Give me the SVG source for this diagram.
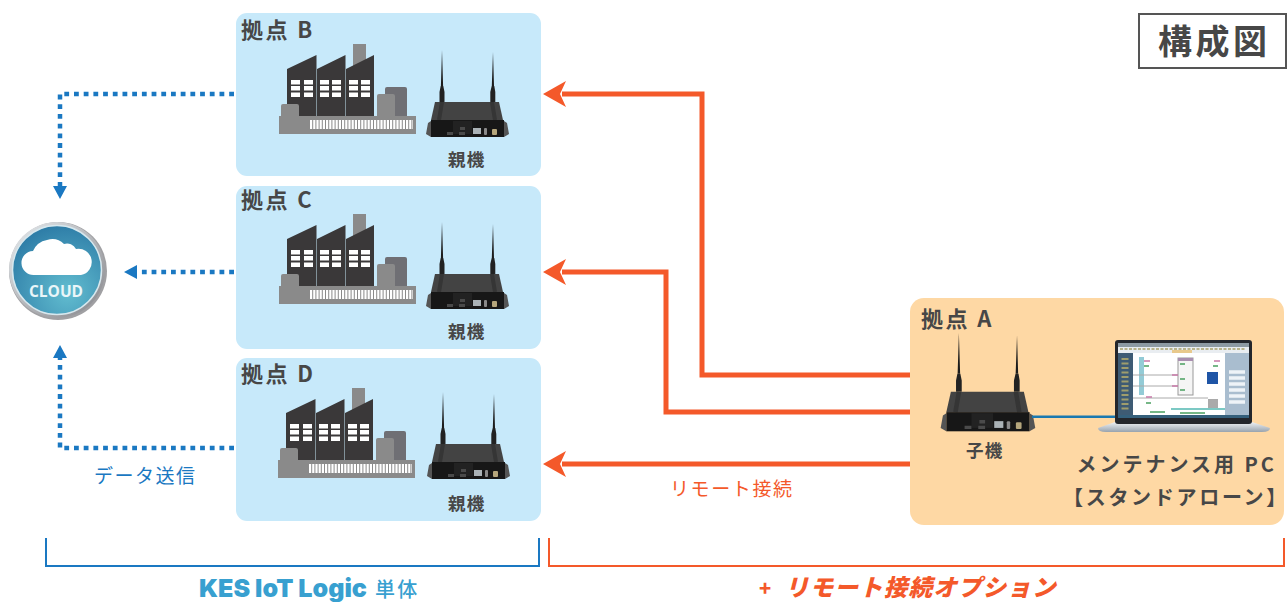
<svg xmlns="http://www.w3.org/2000/svg" width="1287" height="602" viewBox="0 0 1287 602">
<style>
text{font-family:"Noto Sans CJK JP","Noto Sans",sans-serif}
.site{fill:#c7e9fa}
.lbl{font-size:22px;font-weight:700;fill:#474747;letter-spacing:2.400px}
.sub{font-size:17.500px;font-weight:700;fill:#474747;letter-spacing:1.200px}
.or{fill:none;stroke:#f4592a;stroke-width:5}
.dot{fill:none;stroke:#1a78c2;stroke-width:4.500;stroke-dasharray:4.800 4.900}
</style>
<defs>
<radialGradient id="cg" cx="0.62" cy="0.75" r="0.75"><stop offset="0" stop-color="#62bdd0"/><stop offset="1" stop-color="#2f7ea8"/></radialGradient>
<linearGradient id="ring" x1="0" y1="0" x2="1" y2="1"><stop offset="0" stop-color="#e8ecef"/><stop offset="1" stop-color="#85858a"/></linearGradient>
<linearGradient id="lap" x1="0" y1="0" x2="0" y2="1"><stop offset="0" stop-color="#eef1f4"/><stop offset="1" stop-color="#98a3ae"/></linearGradient>
<g id="factory">
<rect x="385" y="87" width="22" height="32" rx="2" fill="#6f6f74"/>
<rect x="353" y="44" width="13" height="25" fill="#8a8a8a"/>
<path d="M287 69L316.500 55V116H287ZM317 69L345.500 55V116H317ZM346 69L374 55V116H346Z" fill="#3a3839"/>
<rect x="377" y="94" width="18" height="24" rx="2" fill="#8a8a8a"/>
<rect x="281" y="104" width="18" height="14" rx="2" fill="#8a8a8a"/>
<rect x="279" y="116" width="137" height="18" fill="#8a8a8a"/>
<path d="M310 124.500H413" fill="none" stroke="#fff" stroke-width="9" stroke-dasharray="2.200 1"/>
<path d="M291 80h9v4.500h-9zM304 80h9v4.500h-9zM320 80h9v4.500h-9zM332 80h9v4.500h-9zM349 80h9v4.500h-9zM361 80h9v4.500h-9zM291 86h9v4.500h-9zM304 86h9v4.500h-9zM320 86h9v4.500h-9zM332 86h9v4.500h-9zM349 86h9v4.500h-9zM361 86h9v4.500h-9zM291 92.500h9v4.500h-9zM304 92.500h9v4.500h-9zM320 92.500h9v4.500h-9zM332 92.500h9v4.500h-9zM349 92.500h9v4.500h-9zM361 92.500h9v4.500h-9z" fill="#fff"/>
</g>
<g id="router">
<path d="M442 50L443.100 86H440.900ZM493 52L494 86H491.800Z" fill="#1c1c1c"/>
<path d="M440.700 86h2.600l1.200 6v10h-5v-10zM491.700 86h2.600l1 6v10h-5v-10z" fill="#222"/>
<path d="M426 134L428 123L431 121V137ZM509 134L507 123L504 121V137Z" fill="#555"/>
<path d="M435 102H499L503 120H431Z" fill="#434343"/>
<path d="M442 102L439 120M492 102L495 120" stroke="#2c2c2c" stroke-width="4" opacity=".6"/>
<rect x="431" y="120" width="73" height="17" fill="#171717"/>
<rect x="453" y="121" width="19" height="13" fill="#222"/>
<rect x="473" y="128" width="8" height="6" fill="#aab2b6"/>
<rect x="484" y="128" width="3" height="7" rx="1" fill="#8a8a8a"/>
<rect x="492" y="129" width="5" height="6" rx="1" fill="#b5a67c"/>
<path d="M460 127h5v3h-5zM447 132h6v3h-6zM459 132h6v3h-6z" fill="#4a4a4a"/>
</g>
</defs>

<g id="site-b"><rect class="site" x="236" y="13" width="305" height="163" rx="11"/><text class="lbl" x="241" y="38">拠点 B</text><use href="#factory"/><use href="#router"/><text class="sub" x="448" y="166">親機</text></g>
<g id="site-c"><rect class="site" x="236" y="186" width="305" height="163" rx="11"/><text class="lbl" x="241" y="208">拠点 C</text><use href="#factory" transform="translate(0 170)"/><use href="#router" transform="translate(0 172)"/><text class="sub" x="448" y="338">親機</text></g>
<g id="site-d"><rect class="site" x="236" y="358" width="305" height="163" rx="11"/><text class="lbl" x="241" y="382">拠点 D</text><use href="#factory" transform="translate(-1 344)"/><use href="#router" transform="translate(1 342)"/><text class="sub" x="448" y="510">親機</text></g>

<g id="site-a">
<rect x="910" y="298" width="374" height="227" rx="14" fill="#fed8a4"/>
<text class="lbl" x="921" y="327">拠点 A</text>
<use href="#router" transform="translate(455 276.500) scale(1.140 1.130)"/>
<text class="sub" x="966" y="457">子機</text>
<rect x="1032" y="415.500" width="84" height="2.500" fill="#1a78b0"/>
<path d="M1115 422L1252 422L1270 428Q1270 432 1262 432H1106Q1098 432 1098 428Z" fill="url(#lap)"/>
<rect x="1115" y="340" width="137" height="84" rx="3" fill="#23262c"/>
<rect x="1118" y="343" width="131" height="75" fill="#e9edf1"/>
<rect x="1118" y="343" width="131" height="4" fill="#8d9aa3"/>
<path d="M1120 349H1246" stroke="#b9b48c" stroke-width="2" stroke-dasharray="3 1.500"/>
<rect x="1172" y="350" width="20" height="3" fill="#e8c98c"/>
<rect x="1118" y="353" width="15" height="65" fill="#3e5b74"/>
<path d="M1125 358V412" stroke="#c8b96a" stroke-width="7" stroke-dasharray="2 2.500" opacity=".7"/>
<rect x="1133" y="353" width="92" height="63" fill="#fff"/>
<rect x="1225" y="353" width="24" height="65" fill="#a9bdcf"/>
<path d="M1229 372H1245M1229 378H1245M1229 384H1245M1229 390H1245M1229 396H1245M1229 402H1245" stroke="#eef3f8" stroke-width="3.500"/>
<rect x="1139" y="357" width="5" height="38" fill="#93cbd6"/>
<rect x="1178" y="358" width="15" height="37" fill="#f5f5f5" stroke="#999"/>
<rect x="1178" y="358" width="15" height="3" fill="#a98fb0"/>
<rect x="1207" y="372" width="11" height="12" fill="#1f55a6"/>
<rect x="1171" y="408" width="54" height="2" fill="#7cc9c4"/>
<rect x="1208" y="399" width="10" height="9" fill="#aaa"/>
<path d="M1133 375H1178M1133 386H1178M1133 398H1208" stroke="#aaa" stroke-width="1"/>
<path d="M1144 361h6M1214 361h6M1146 397h6M1172 375h6M1172 386h6" stroke="#c878a8" stroke-width="1.500"/>
<path d="M1144 366h5M1213 366h5M1146 403h5M1180 379h5M1180 390h5M1180 364h5M1150 412h15M1180 413h25" stroke="#4aa060" stroke-width="1.500"/>
<rect x="1118" y="415" width="131" height="3" fill="#35607c"/>
<text x="1277" y="472" text-anchor="end" font-size="20" font-weight="700" fill="#474747" letter-spacing="3">メンテナンス用 PC</text>
<text x="1063" y="505" font-size="20" font-weight="700" fill="#474747" letter-spacing="2.700">【スタンドアローン】</text>
</g>

<g id="cloud">
<circle cx="58" cy="271" r="49" fill="#77777c" opacity="0.7"/>
<circle cx="57" cy="270" r="48" fill="url(#ring)"/>
<circle cx="57" cy="270" r="44.500" fill="url(#cg)" stroke="#d7e8ee" stroke-width="1.500"/>
<path d="M33 275a12 12 0 0 1-1-24a19 19 0 0 1 14-11a17 17 0 0 1 17 4a10 10 0 0 1 12 5a13 13 0 0 1 5 26Z" fill="#fff" transform="translate(1 0)"/>
<text x="56" y="297" text-anchor="middle" font-size="15.500" font-weight="700" fill="#eaf6f9" style="font-family:'Open Sans','Liberation Sans',sans-serif">CLOUD</text>
</g>

<g id="connectors">
<path class="or" d="M910 375H702V94H562"/>
<path class="or" d="M910 412H666V272H562"/>
<path class="or" d="M910 464H562"/>
<path d="M543 94L566 81L560 94L566 107ZM543 272L566 259L560 272L566 285ZM543 464L566 451L560 464L566 477Z" fill="#f4592a"/>
<path class="dot" d="M234 94H60V186"/>
<path class="dot" d="M234 272H137"/>
<path class="dot" d="M234 448H60V358"/>
<path d="M60 199L53 186H67ZM124 272L137 265V279ZM60 345L53 358H67Z" fill="#1a78c2"/>
<path d="M46 538V566H539V538" fill="none" stroke="#1a78c2" stroke-width="2"/>
<path d="M549 538V566H1284V538" fill="none" stroke="#f4592a" stroke-width="2"/>
</g>

<g id="labels">
<text x="94" y="483" font-size="19" fill="#1a78c2" letter-spacing="1.500">データ送信</text>
<text x="670" y="496" font-size="19" fill="#f4592a" letter-spacing="1.600">リモート接続</text>
<text x="199" y="597" font-size="25" font-weight="900" fill="#38a0d0" style="font-family:Inter,'Liberation Sans',sans-serif" textLength="168" lengthAdjust="spacingAndGlyphs">KES IoT Logic</text>
<text x="375" y="597" font-size="20" font-weight="500" fill="#38a0d0" letter-spacing="2.200">単体</text>
<text x="759" y="596" font-size="20" font-weight="900" fill="#f4592a">+</text>
<text x="785" y="596" font-size="23.500" font-weight="900" fill="#f4592a" font-style="italic" letter-spacing="1.200">リモート接続オプション</text>
</g>

<g id="title">
<rect x="1139" y="14" width="147" height="54" fill="#fff" stroke="#555" stroke-width="2"/>
<text x="1158" y="54" font-size="34" font-weight="700" fill="#474747" letter-spacing="3.500">構成図</text>
</g>
</svg>
